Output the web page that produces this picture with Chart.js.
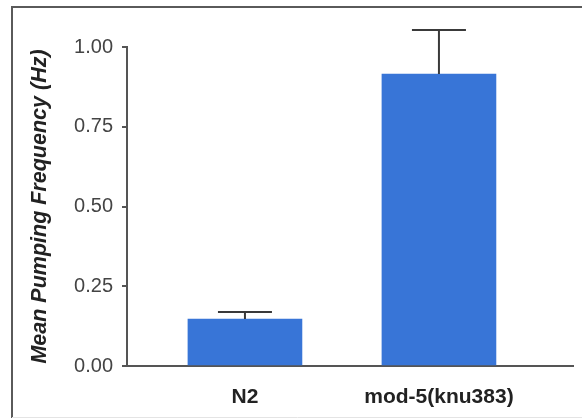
<!DOCTYPE html>
<html>
<head>
<meta charset="utf-8">
<script src="https://cdn.jsdelivr.net/npm/chart.js@4/dist/chart.umd.min.js"></script>
<style>
html,body{margin:0;padding:0;background:#fff;}
#wrap{position:relative;width:582px;height:418px;}
</style>
</head>
<body>
<div id="wrap"><canvas id="c" width="582" height="418"></canvas></div>
<script>
const categories = ['N2', 'mod-5(knu383)'];
const categoryPositions = [1, 2];
const meanValues = [0.147, 0.915];
const errorUpper = [0.169, 1.053];
const yTicks = [0, 0.25, 0.5, 0.75, 1.0];

const FONT = "'Liberation Sans', Arial, Helvetica, sans-serif";
const AXIS = '#555555';

const framePlugin = {
  id: 'frame',
  beforeDraw(chart) {
    const ctx = chart.ctx;
    ctx.save();
    ctx.strokeStyle = '#5a5a5a';
    ctx.lineWidth = 2;
    ctx.beginPath();
    ctx.moveTo(12, 420);
    ctx.lineTo(12, 7);
    ctx.lineTo(590, 7);
    ctx.stroke();
    ctx.strokeStyle = '#e4e4e4';
    ctx.lineWidth = 1;
    ctx.beginPath();
    ctx.moveTo(12, 417.5);
    ctx.lineTo(590, 417.5);
    ctx.stroke();
    ctx.restore();
  }
};

const errorBarPlugin = {
  id: 'errorBars',
  afterDatasetsDraw(chart) {
    const ctx = chart.ctx;
    const yScale = chart.scales.y;
    const meta = chart.getDatasetMeta(0);
    ctx.save();
    ctx.strokeStyle = '#3a3a3a';
    ctx.lineWidth = 2;
    meta.data.forEach((bar, i) => {
      const x = bar.x;
      const yTop = yScale.getPixelForValue(errorUpper[i]);
      const capHalf = 27;
      ctx.beginPath();
      ctx.moveTo(x, bar.y);
      ctx.lineTo(x, yTop);
      ctx.moveTo(x - capHalf, yTop);
      ctx.lineTo(x + capHalf, yTop);
      ctx.stroke();
    });
    ctx.restore();
  }
};

new Chart(document.getElementById('c'), {
  type: 'bar',
  data: {
    datasets: [{
      data: categoryPositions.map((p, i) => ({ x: p, y: meanValues[i] })),
      backgroundColor: '#3875d7',
      borderWidth: 0,
      barThickness: 114
    }]
  },
  options: {
    responsive: false,
    animation: false,
    events: [],
    layout: { padding: { left: 0, right: 9, top: 47, bottom: 0 } },
    plugins: { legend: { display: false }, tooltip: { enabled: false } },
    scales: {
      x: {
        type: 'linear',
        offset: false,
        bounds: 'ticks',
        min: 0.392,
        max: 2.691,
        afterBuildTicks(scale) { scale.ticks = categoryPositions.map(v => ({ value: v })); },
        afterFit(scale) { scale.height = 52; },
        grid: { display: false, drawTicks: false, offset: false },
        border: { display: true, color: AXIS, width: 2 },
        ticks: {
          autoSkip: false,
          maxRotation: 0,
          padding: 19,
          color: '#222',
          font: { family: FONT, size: 21, weight: 'bold' },
          callback(v) { const i = categoryPositions.indexOf(v); return i >= 0 ? categories[i] : ''; }
        }
      },
      y: {
        min: 0,
        max: 1,
        afterBuildTicks(scale) { scale.ticks = yTicks.map(v => ({ value: v })); },
        afterFit(scale) { scale.width = 127; },
        grid: { display: true, drawOnChartArea: false, drawTicks: true, tickLength: 5, color: AXIS, lineWidth: 2 },
        border: { display: true, color: AXIS, width: 2 },
        ticks: {
          padding: 9,
          color: '#444',
          font: { family: FONT, size: 20 },
          callback(v) { return Number(v).toFixed(2); }
        },
        title: {
          display: true,
          text: 'Mean Pumping Frequency (Hz)',
          color: '#222',
          padding: { top: 27, bottom: 0 },
          font: { family: FONT, size: 21.5, weight: 'bold', style: 'italic' }
        }
      }
    }
  },
  plugins: [framePlugin, errorBarPlugin]
});
</script>
</body>
</html>
